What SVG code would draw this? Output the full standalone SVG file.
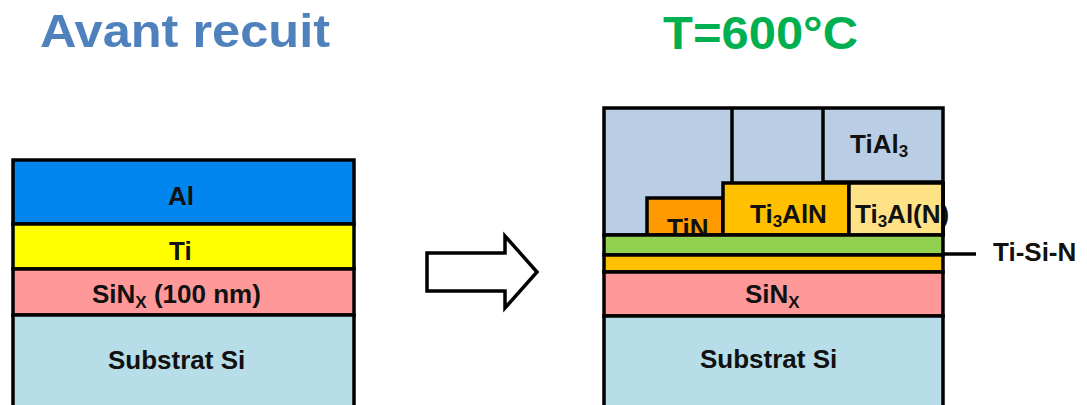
<svg xmlns="http://www.w3.org/2000/svg" width="1087" height="405" viewBox="0 0 1087 405">
<style>
.lay{stroke:#000;stroke-width:3.5}
.ln{stroke:#000;stroke-width:3.5;fill:none}
.t{font-family:"Liberation Sans",Arial,sans-serif;font-weight:bold;font-size:26px;fill:#111}
.sub{font-size:17px}
.title{font-family:"Liberation Sans",Arial,sans-serif;font-weight:bold;font-size:47px}
</style>
<rect width="1087" height="405" fill="#fff"/>
<g id="titles">
<text class="title" x="40" y="47" fill="#4F81BD" textLength="290" lengthAdjust="spacingAndGlyphs">Avant recuit</text>
<text class="title" x="663" y="49" fill="#00B050" textLength="195" lengthAdjust="spacingAndGlyphs">T=600°C</text>
</g>
<g id="stack-before">
<g id="al"><rect class="lay" x="13" y="160" width="341" height="64" fill="#0086EE"/><text class="t" x="168" y="205">Al</text></g>
<g id="ti"><rect class="lay" x="13" y="224" width="341" height="45" fill="#FFFF00"/><text class="t" x="169" y="260">Ti</text></g>
<g id="sinx-before"><rect class="lay" x="13" y="269" width="341" height="46" fill="#FF9999"/><text class="t" x="92" y="303">SiN<tspan class="sub" dy="5">X</tspan><tspan dy="-5"> (100 nm)</tspan></text></g>
<g id="sub-before"><rect class="lay" x="13" y="315" width="341" height="110" fill="#B7DDE8"/><text class="t" x="108" y="369">Substrat Si</text></g>
</g>
<g id="connectors">
<path class="ln" d="M427 253 H505 V236 L537 272 L505 308 V291 H427 Z" fill="#fff" stroke-linejoin="miter"/>
<line class="ln" x1="943" y1="254" x2="976" y2="254" stroke-width="3"/>
</g>
<g id="stack-after">
<g id="tial3"><rect class="lay" x="604" y="108" width="339" height="127" fill="#B9CDE5"/>
<path class="ln" d="M732 108 V183 M823 108 V182 H943"/>
<text class="t" x="850" y="153">TiAl<tspan class="sub" dy="4">3</tspan></text></g>
<g id="tin"><rect class="lay" x="647" y="198" width="76" height="37" fill="#FF9A00"/><text class="t" x="667" y="237">TiN</text></g>
<g id="ti3aln"><rect class="lay" x="723" y="183" width="126" height="52" fill="#FFC000"/><text class="t" x="750" y="223">Ti<tspan class="sub" dy="4">3</tspan><tspan dy="-4">AlN</tspan></text></g>
<g id="ti3aln2"><rect class="lay" x="849" y="183" width="94" height="52" fill="#FFE186"/><text class="t" x="855" y="223">Ti<tspan class="sub" dy="4">3</tspan><tspan dy="-4">Al(N)</tspan></text><line class="ln" x1="943" y1="181" x2="943" y2="236"/></g>
<g id="tisin"><rect class="lay" x="604" y="235" width="339" height="20" fill="#92D050"/><text class="t" x="993" y="261">Ti-Si-N</text></g>
<g id="orange-layer"><rect class="lay" x="604" y="255" width="339" height="17" fill="#FFC000"/></g>
<g id="sinx-after"><rect class="lay" x="604" y="272" width="339" height="44" fill="#FF9999"/><text class="t" x="745" y="303">SiN<tspan class="sub" dy="5">X</tspan></text></g>
<g id="sub-after"><rect class="lay" x="604" y="316" width="339" height="110" fill="#B7DDE8"/><text class="t" x="700" y="368">Substrat Si</text></g>
</g>
</svg>
